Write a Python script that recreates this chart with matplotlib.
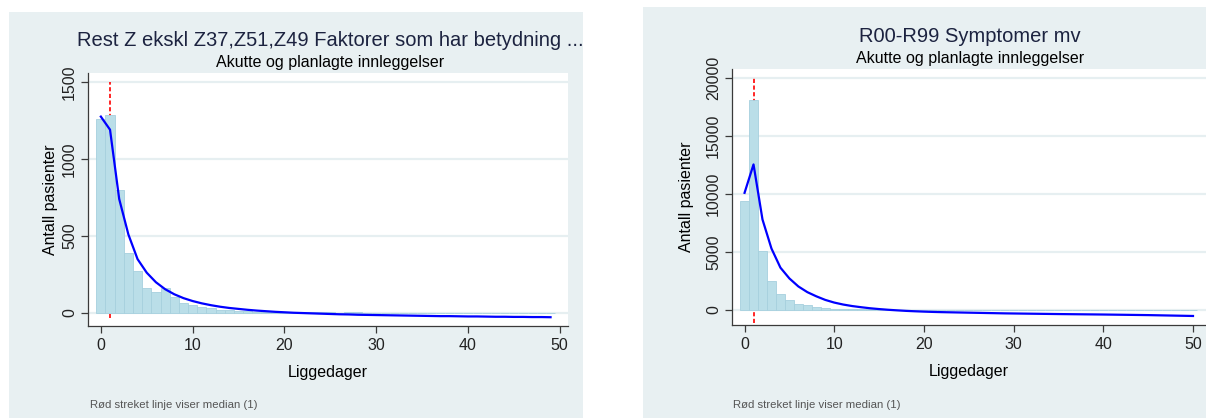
import matplotlib
matplotlib.use("Agg")
from matplotlib import pyplot as plt
from matplotlib.patches import Rectangle
import numpy as np

plt.rcParams['font.family'] = ['Liberation Sans', 'DejaVu Sans']

# --- data ---
days_left = list(range(0, 50))
counts_left = [1262, 1284, 797, 392, 275, 165, 139, 165, 104, 67,
               52, 37, 30, 22, 17, 14, 12, 10, 8, 6,
               5, 6, 8, 4, 5, 4, 2, 4, 4, 3,
               2, 1, 1, 0, 3, 3, 2, 2, 2, 3,
               1, 2, 2, 1, 2, 0, 2, 0, 2, 2]
fit_left = [1275, 1190, 740, 510, 350, 262, 200, 155, 122, 97,
            78, 63, 51, 41, 33, 27, 21, 16, 12, 8,
            5, 2, 0, -2, -4, -6, -8, -9, -11, -12,
            -13, -14, -15, -16, -17, -18, -19, -20, -20, -21,
            -22, -22, -23, -24, -24, -25, -25, -26, -26, -27]

days_right = list(range(0, 51))
counts_right = [9370, 18135, 5070, 2490, 1375, 860, 545, 400, 260, 170,
                115, 95, 75, 60, 50, 42, 36, 30, 26, 22,
                20, 18, 16, 15, 14, 13, 12, 11, 10, 10,
                9, 9, 8, 8, 7, 7, 7, 6, 6, 6,
                5, 5, 5, 5, 4, 4, 4, 4, 3, 0, 3]
fit_right = [10100, 12550, 7800, 5300, 3650, 2720, 2030, 1540, 1180, 870,
             640, 470, 340, 240, 150, 80, 20, -30, -75, -110,
             -140, -165, -185, -200, -215, -230, -245, -260, -275, -290,
             -300, -310, -320, -330, -340, -350, -358, -366, -374, -382,
             -390, -400, -410, -420, -430, -440, -455, -470, -485, -500, -515]

median = 1
xticks = [0, 10, 20, 30, 40, 50]
yticks_left = [0, 500, 1000, 1500]
yticks_right = [0, 5000, 10000, 15000, 20000]

title_left = "Rest Z ekskl Z37,Z51,Z49 Faktorer som har betydning ..."
title_right = "R00-R99 Symptomer mv"
subtitle = "Akutte og planlagte innleggelser"
note = "Rød streket linje viser median (1)"

panel_bg = '#e8f0f2'
grid_col = '#e6eff1'
bar_col = '#badee8'
bar_edge = '#a6d0de'

W, H = 1206, 418
fig = plt.figure(figsize=(W / 100, H / 100), dpi=100, facecolor='white')

# background panels (pixel boxes -> figure fractions)
for x0, y0, x1, y1 in [(9, 12, 583, 418), (643, 7, 1206, 418)]:
    fig.patches.append(Rectangle((x0 / W, 1 - y1 / H), (x1 - x0) / W, (y1 - y0) / H,
                                 transform=fig.transFigure, facecolor=panel_bg,
                                 edgecolor='none', zorder=-10))


def draw(rect, days, counts, fit, yticks, ylim, xlim, med_span, title, tcenter, ty, sty,
         notex, ylpad):
    ax = fig.add_axes(rect)
    ax.set_zorder(1)
    ax.set_facecolor('white')
    for y in yticks:
        ax.axhline(y, color=grid_col, lw=1.6, zorder=0)
    ax.plot([median, median], med_span, color='red', lw=1.2, ls=(0, (2.5, 1.5)), zorder=1)
    ax.bar(days, counts, width=1.0, color=bar_col, edgecolor=bar_edge, linewidth=0.6, zorder=2)
    ax.plot(days[:len(fit)], fit, color='#0000ff', lw=1.6, zorder=3)
    ax.set_xlim(*xlim)
    ax.set_ylim(*ylim)
    ax.set_xticks(xticks)
    ax.set_yticks(yticks)
    for s in ['top', 'right']:
        ax.spines[s].set_visible(False)
    for s in ['left', 'bottom']:
        ax.spines[s].set_color('#3a3a3a')
        ax.spines[s].set_linewidth(0.9)
    ax.tick_params(axis='both', colors='#3a3a3a', length=5, width=0.9, labelsize=11.5,
                   labelcolor='#222222')
    ax.tick_params(axis='y', pad=3)
    for lab in ax.get_yticklabels():
        lab.set_rotation(90)
        lab.set_va('center')
    ax.set_ylabel('Antall pasienter', fontsize=11.5, labelpad=ylpad)
    ax.set_xlabel('Liggedager', fontsize=11.5, labelpad=8.5)
    fig.text(tcenter / W, 1 - ty / H, title, ha='center', va='center', fontsize=14.5,
             color='#1c2340')
    fig.text(tcenter / W, 1 - sty / H, subtitle, ha='center', va='center', fontsize=11.5,
             color='black')
    fig.text(notex / W, 1 - 405 / H, note, ha='left', va='center', fontsize=8.2,
             color='#555555')
    return ax


draw([88 / W, 1 - 326 / H, 480 / W, 253 / H], days_left, counts_left, fit_left,
     yticks_left, (-84, 1558), (-1.4, 50.9), (-35, 1500), title_left, 330, 40, 62, 90, 2.5)
draw([732 / W, 1 - 325 / H, 474 / W, 256 / H], days_right, counts_right, fit_right,
     yticks_right, (-1293, 20776), (-1.4, 51.45), (-1100, 20000), title_right, 970, 36, 58,
     733, 8.5)

fig.savefig('out.png', dpi=100, facecolor='white')
